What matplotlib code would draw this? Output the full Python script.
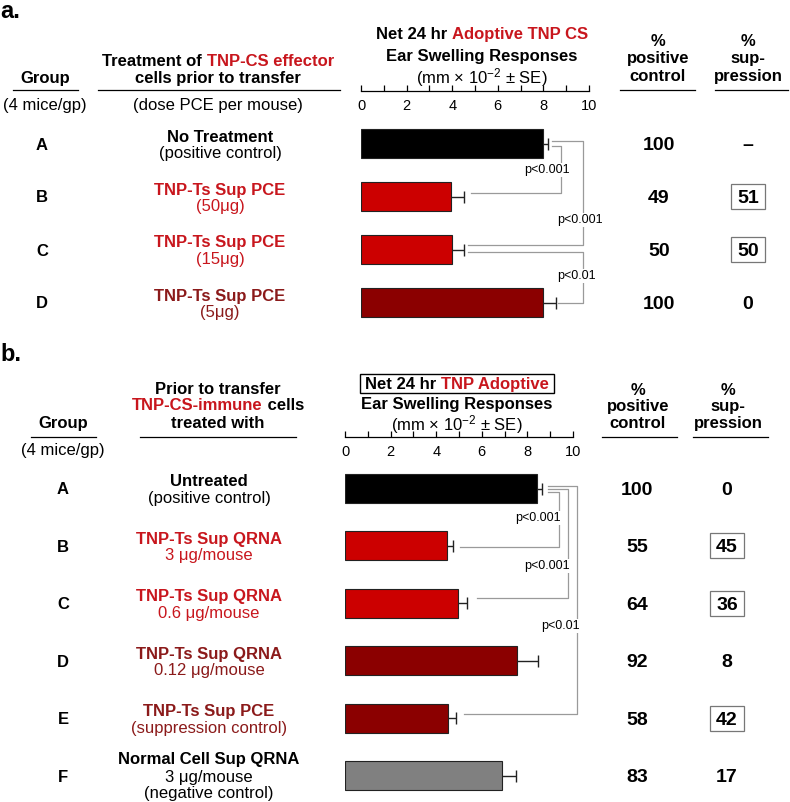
import numpy as np
import matplotlib.pyplot as plt
from matplotlib.lines import Line2D
from matplotlib.patches import Rectangle

plt.rcParams['font.family'] = ['Liberation Sans', 'DejaVu Sans']
plt.rcParams['mathtext.fontset'] = 'custom'
plt.rcParams['mathtext.rm'] = 'Liberation Sans'
plt.rcParams['mathtext.it'] = 'Liberation Sans:italic'
plt.rcParams['mathtext.bf'] = 'Liberation Sans:bold'

# ---- panel a data ----
a_groups = ['A', 'B', 'C', 'D']
a_treat = ['No Treatment', 'TNP-Ts Sup PCE', 'TNP-Ts Sup PCE', 'TNP-Ts Sup PCE']
a_dose = [['(positive control)'], ['(50μg)'], ['(15μg)'], ['(5μg)']]
a_resp = [8.0, 3.95, 4.0, 8.0]
a_se = [0.2, 0.55, 0.5, 0.55]
a_pos = ['100', '49', '50', '100']
a_sup = ['–', '51', '50', '0']
a_boxed = [False, True, True, False]
a_kind = ['pos', 'sup', 'sup', 'weak']
a_pairs = [(0, 1), (0, 2), (2, 3)]
a_pvals = ['p<0.001', 'p<0.001', 'p<0.01']

# ---- panel b data ----
b_groups = ['A', 'B', 'C', 'D', 'E', 'F']
b_treat = ['Untreated', 'TNP-Ts Sup QRNA', 'TNP-Ts Sup QRNA', 'TNP-Ts Sup QRNA',
           'TNP-Ts Sup PCE', 'Normal Cell Sup QRNA']
b_dose = [['(positive control)'], ['3 μg/mouse'], ['0.6 μg/mouse'], ['0.12 μg/mouse'],
          ['(suppression control)'], ['3 μg/mouse', '(negative control)']]
b_resp = [8.4, 4.49, 4.97, 7.56, 4.52, 6.9]
b_se = [0.24, 0.26, 0.37, 0.92, 0.35, 0.6]
b_pos = ['100', '55', '64', '92', '58', '83']
b_sup = ['0', '45', '36', '8', '42', '17']
b_boxed = [False, True, True, False, True, False]
b_kind = ['pos', 'sup', 'sup', 'weak', 'weak', 'neg']
b_pairs = [(0, 1), (0, 2), (0, 4)]
b_pvals = ['p<0.001', 'p<0.001', 'p<0.01']

ticks_major = [0, 2, 4, 6, 8, 10]
ticks_minor = [1, 3, 5, 7, 9]

bar_col = {'pos': 'black', 'sup': '#CC0000', 'weak': '#8B0000', 'neg': '#808080'}
txt_col = {'pos': 'black', 'sup': '#C8161D', 'weak': '#8B1A1A', 'neg': 'black'}
RED = '#C8161D'

W, H = 790, 802
fig = plt.figure(figsize=(W / 100, H / 100), dpi=100)
renderer = fig.canvas.get_renderer()


def fx(x):
    return x / W


def fy(y):
    return 1 - y / H


def txt(x, y, s, size=12, weight='bold', color='black', ha='center', **kw):
    return fig.text(fx(x), fy(y), s, fontsize=size, fontweight=weight, color=color,
                    ha=ha, va='center_baseline', **kw)


def hline(x0, x1, y, color='black', lw=0.9):
    fig.add_artist(Line2D([fx(x0), fx(x1)], [fy(y), fy(y)], color=color, lw=lw,
                          transform=fig.transFigure))


def rect(x0, y0, x1, y1, color='#777777', lw=0.9):
    fig.add_artist(Rectangle((fx(x0), fy(y1)), (x1 - x0) / W, (y1 - y0) / H, fill=False,
                             ec=color, lw=lw, transform=fig.transFigure))


def width_px(s, size, weight):
    t = fig.text(0, 0, s, fontsize=size, fontweight=weight)
    w = t.get_window_extent(renderer).width
    t.remove()
    return w


def colored(xc, y, parts, size=12, weight='bold'):
    full = ''.join(p for p, _ in parts)
    total = width_px(full, size, weight)
    wx = width_px('X', size, weight)
    x0 = xc - total / 2
    prefix = ''
    for p, c in parts:
        off = width_px(prefix + 'X', size, weight) - wx if prefix else 0.0
        txt(x0 + off, y, p, size=size, weight=weight, color=c, ha='left')
        prefix += p
    return x0, total


def scale_axes(left, y):
    sx = fig.add_axes([fx(left), fy(y), 228 / W, 1e-5])
    sx.set_xlim(0, 10)
    sx.set_yticks([])
    for s in ['top', 'left', 'right']:
        sx.spines[s].set_visible(False)
    sx.spines['bottom'].set_linewidth(0.9)
    sx.set_xticks(ticks_major)
    sx.set_xticks(ticks_minor, minor=True)
    sx.tick_params(axis='x', which='both', direction='in', length=4.5, width=0.9,
                   labelsize=10.5, pad=6)
    sx.patch.set_visible(False)


def bar_axes(left, first_center, step, resp, se, kinds, pairs, pvals, brk):
    n = len(resp)
    top = first_center - step / 2
    height = step * n
    ax = fig.add_axes([fx(left), fy(top + height), 228 / W, height / H])
    ax.set_xlim(0, 10)
    ax.set_ylim(n - 0.5, -0.5)
    ax.axis('off')
    y = np.arange(n)
    resp = np.asarray(resp)
    se = np.asarray(se)
    ax.barh(y, resp, height=29 / step, color=[bar_col[k] for k in kinds],
            edgecolor='#222222', linewidth=0.8, zorder=2)
    # one-sided error bars: stem plus a cap at the outer end only
    ax.hlines(y, resp, resp + se, color='#222222', lw=1.0, zorder=3)
    ax.plot(resp + se, y, ls='none', marker='|', ms=8, mew=1.0, color='#222222', zorder=3)
    for (i, j), p, b in zip(pairs, pvals, brk):
        xi = resp[i] + se[i] + b['gi']
        xj = resp[j] + se[j] + b['gj']
        ax.plot([xi, b['xv'], b['xv'], xj],
                [i + b['dyi'], i + b['dyi'], j + b['dyj'], j + b['dyj']],
                color='#9a9a9a', lw=0.9, clip_on=False, zorder=1)
        ax.text(b['lx'], b['ly'], p, fontsize=9, ha='center', va='center', zorder=4,
                bbox=dict(fc='white', ec='none', pad=0.6))
    return ax


def rows(first_center, step, groups, treat, dose, kinds, pos, sup, boxed,
         xg, xt, xp, xs):
    for i in range(len(groups)):
        yc = first_center + i * step
        c = txt_col[kinds[i]]
        txt(xg, yc, groups[i], size=12)
        lines = [(treat[i], 'bold')] + [(d, 'normal') for d in dose[i]]
        if len(lines) == 2:
            offs = [-8.0, 8.5]
        else:
            offs = [-17.5, 0.5, 16.5]
        for (s, w), o in zip(lines, offs):
            txt(xt, yc + o, s, size=12, weight=w, color=c)
        txt(xp, yc, pos[i], size=14)
        txt(xs, yc, sup[i], size=14)
        if boxed[i]:
            rect(xs - 17, yc - 12.5, xs + 17, yc + 12.5)


# ================= panel a =================
txt(0, 9, 'a.', size=17, ha='left')
txt(45, 77, 'Group')
hline(13, 78, 90)
txt(45, 104, '(4 mice/gp)', weight='normal')
colored(218, 60, [('Treatment of ', 'black'), ('TNP-CS effector', RED)])
txt(218, 77, 'cells prior to transfer')
hline(98, 340, 90)
txt(218, 104, '(dose PCE per mouse)', weight='normal')
colored(482, 33, [('Net 24 hr ', 'black'), ('Adoptive TNP CS', RED)])
txt(482, 55, 'Ear Swelling Responses')
txt(482, 75, r'(mm × 10$^{-2}$ ± SE)', weight='normal')
for xc, l1, l2, (u0, u1) in [(658, 'positive', 'control', (620, 695)),
                             (748, 'sup-', 'pression', (715, 788))]:
    txt(xc, 40, '%')
    txt(xc, 57, l1)
    txt(xc, 75, l2)
    hline(u0, u1, 90)
scale_axes(361, 91)

a_brk = [dict(gi=0.18, dyi=0.05, gj=0.32, dyj=-0.07, xv=8.77, lx=8.16, ly=0.5),
         dict(gi=0.18, dyi=-0.05, gj=0.2, dyj=-0.08, xv=9.74, lx=9.6, ly=1.45),
         dict(gi=0.2, dyi=0.05, gj=0.1, dyj=0.0, xv=9.74, lx=9.47, ly=2.5)]
bar_axes(361, 143.5, 53, a_resp, a_se, a_kind, a_pairs, a_pvals, a_brk)
rows(143.5, 53, a_groups, a_treat, a_dose, a_kind, a_pos, a_sup, a_boxed,
     42, 220, 659, 748)

# ================= panel b =================
txt(0, 352, 'b.', size=17, ha='left')
txt(63, 422, 'Group')
hline(31, 96, 437)
txt(63, 449, '(4 mice/gp)', weight='normal')
txt(218, 388, 'Prior to transfer')
colored(218, 404, [('TNP-CS-immune', RED), (' cells', 'black')])
txt(218, 422, 'treated with')
hline(140, 296, 437)
x0, tw = colored(457, 383, [('Net 24 hr ', 'black'), ('TNP Adoptive', RED)])
rect(x0 - 5, 374, x0 + tw + 5, 393, color='black', lw=1.0)
txt(457, 403, 'Ear Swelling Responses')
txt(457, 422, r'(mm × 10$^{-2}$ ± SE)', weight='normal')
for xc, l1, l2, (u0, u1) in [(638, 'positive', 'control', (602, 677)),
                             (728, 'sup-', 'pression', (693, 768))]:
    txt(xc, 389, '%')
    txt(xc, 405, l1)
    txt(xc, 422, l2)
    hline(u0, u1, 437)
scale_axes(345, 437)

b_brk = [dict(gi=0.26, dyi=0.055, gj=0.29, dyj=0.02, xv=9.39, lx=8.46, ly=0.52),
         dict(gi=0.26, dyi=0.01, gj=0.45, dyj=-0.09, xv=9.78, lx=8.86, ly=1.35),
         dict(gi=0.26, dyi=-0.04, gj=0.35, dyj=-0.07, xv=10.18, lx=9.43, ly=2.4)]
bar_axes(345, 488.5, 57.4, b_resp, b_se, b_kind, b_pairs, b_pvals, b_brk)
rows(488.5, 57.4, b_groups, b_treat, b_dose, b_kind, b_pos, b_sup, b_boxed,
     63, 209, 637, 727)

fig.savefig('out.png', dpi=100)
